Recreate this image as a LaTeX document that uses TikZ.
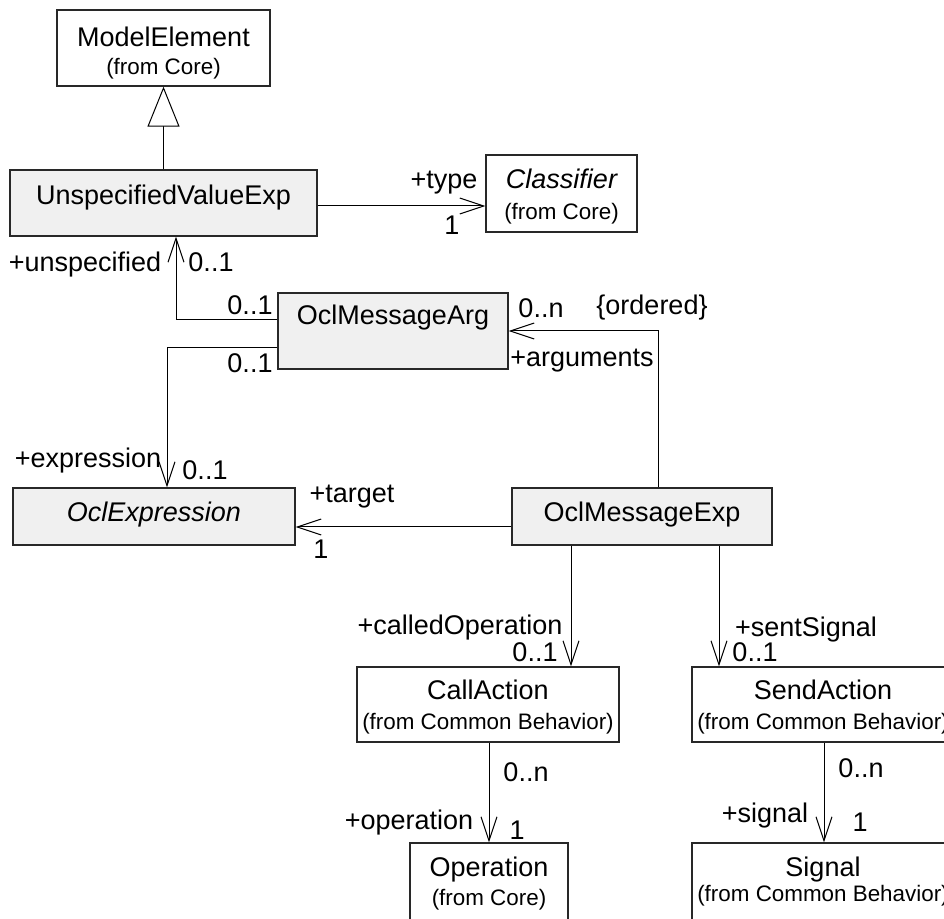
\documentclass[tikz,border=0pt]{standalone}
\usepackage{fontspec}
\setmainfont{Liberation Sans}
\usetikzlibrary{arrows.meta}
\definecolor{boxfill}{RGB}{240,240,240}
\definecolor{edge}{RGB}{40,40,40}
\begin{document}
\begin{tikzpicture}[x=1pt,y=1pt,
  cls/.style={draw=edge, line width=1.3pt, inner sep=0pt, anchor=center},
  gcls/.style={cls, fill=boxfill},
  big/.style={font={\fontsize{27}{31}\selectfont}, anchor=base, yshift=-9.7pt, inner sep=0pt},
  small/.style={font={\fontsize{22.4}{26}\selectfont}, anchor=base, yshift=-8pt, inner sep=0pt},
  assoc/.style={draw=black, line width=1pt, -{Straight Barb[length=24pt,width=16pt]}},
  gen/.style={draw=black, line width=1pt, -{Triangle[open,length=40pt,width=32pt,fill=white]}}]
\useasboundingbox (0,0) rectangle (944,918);
\clip (0,0) rectangle (944,918);
\fill[white] (0,0) rectangle (944,918);

% classes
\node[cls, minimum width=213pt, minimum height=76pt] (me) at (163.5,870) {};
\node[big] (meT) at (163.5,881) {ModelElement};
\node[small] (meS) at (163.5,851) {(from Core)};

\node[gcls, minimum width=307pt, minimum height=66pt] (uve) at (163.5,715) {};
\node[big] (uveT) at (163.5,723) {UnspecifiedValueExp};

\node[cls, minimum width=151pt, minimum height=77pt] (cls) at (561.5,724.5) {};
\node[big] (clsT) at (561.5,739) {\itshape Classifier};
\node[small] (clsS) at (561.5,706) {(from Core)};

\node[gcls, minimum width=230pt, minimum height=76pt] (arg) at (393,587) {};
\node[big] (argT) at (393,603) {OclMessageArg};

\node[gcls, minimum width=282pt, minimum height=57pt] (oe) at (154,401.5) {};
\node[big] (oeT) at (154,406) {\itshape OclExpression};

\node[gcls, minimum width=260pt, minimum height=57pt] (ome) at (642,401.5) {};
\node[big] (omeT) at (642,406) {OclMessageExp};

\node[cls, minimum width=262pt, minimum height=75pt] (ca) at (488,213.5) {};
\node[big] (caT) at (488,228) {CallAction};
\node[small] (caS) at (488,196) {(from Common Behavior)};

\node[cls, minimum width=262pt, minimum height=75pt] (sa) at (823,213.5) {};
\node[big] (saT) at (823,228) {SendAction};
\node[small] (saS) at (823,196) {(from Common Behavior)};

\node[cls, minimum width=158pt, minimum height=150pt] (op) at (489,0) {};
\node[big] (opT) at (489,51) {Operation};
\node[small] (opS) at (489,21) {(from Core)};

\node[cls, minimum width=262pt, minimum height=150pt] (sg) at (823,0) {};
\node[big] (sgT) at (823,51) {Signal};
\node[small] (sgS) at (823,25) {(from Common Behavior)};

% connectors
\draw[gen] (uve.north) -- (me.south);

\coordinate (t1) at ([yshift=-3pt]uve.east);
\draw[assoc] (t1) -- (t1 -| cls.west);

\coordinate (u1) at ([yshift=11pt]arg.west);
\draw[assoc] (u1) -| ([xshift=12.5pt]uve.south);

\coordinate (x1) at ([yshift=-17pt]arg.west);
\draw[assoc] (x1) -| ([xshift=13pt]oe.north);

\coordinate (g1) at ([yshift=-10.5pt]ome.west);
\draw[assoc] (g1) -- (g1 -| oe.east);

\draw[assoc] ([xshift=16pt]ome.north) |- (arg.east);

\coordinate (c1) at ([xshift=-71pt]ome.south);
\draw[assoc] (c1) -- (c1 |- ca.north);

\coordinate (s1) at ([xshift=77pt]ome.south);
\draw[assoc] (s1) -- (s1 |- sa.north);

\coordinate (o1) at ([xshift=1pt]ca.south);
\draw[assoc] (o1) -- (o1 |- op.north);

\coordinate (q1) at ([xshift=1pt]sa.south);
\draw[assoc] (q1) -- (q1 |- sg.north);

% labels
\node[big] (l1) at (444,739) {+type};
\node[big] (l2) at (452,693) {1};
\node[big] (l3) at (85,656) {+unspecified};
\node[big] (l4) at (211,656) {0..1};
\node[big] (l5) at (250,613) {0..1};
\node[big] (l6) at (250,555) {0..1};
\node[big] (l7) at (88,460) {+expression};
\node[big] (l8) at (205,448) {0..1};
\node[big] (l9) at (352,425) {+target};
\node[big] (l10) at (321,369) {1};
\node[big] (l11) at (541,610) {0..n};
\node[big] (l12) at (652,613) {\{ordered\}};
\node[big] (l13) at (582,561) {+arguments};
\node[big] (l14) at (460,293) {+calledOperation};
\node[big] (l15) at (535,266) {0..1};
\node[big] (l16) at (806,291) {+sentSignal};
\node[big] (l17) at (755,266) {0..1};
\node[big] (l18) at (526,146) {0..n};
\node[big] (l19) at (409,98) {+operation};
\node[big] (l20) at (517,88) {1};
\node[big] (l21) at (861,150) {0..n};
\node[big] (l22) at (765,105) {+signal};
\node[big] (l23) at (860,96) {1};
\end{tikzpicture}
\end{document}
